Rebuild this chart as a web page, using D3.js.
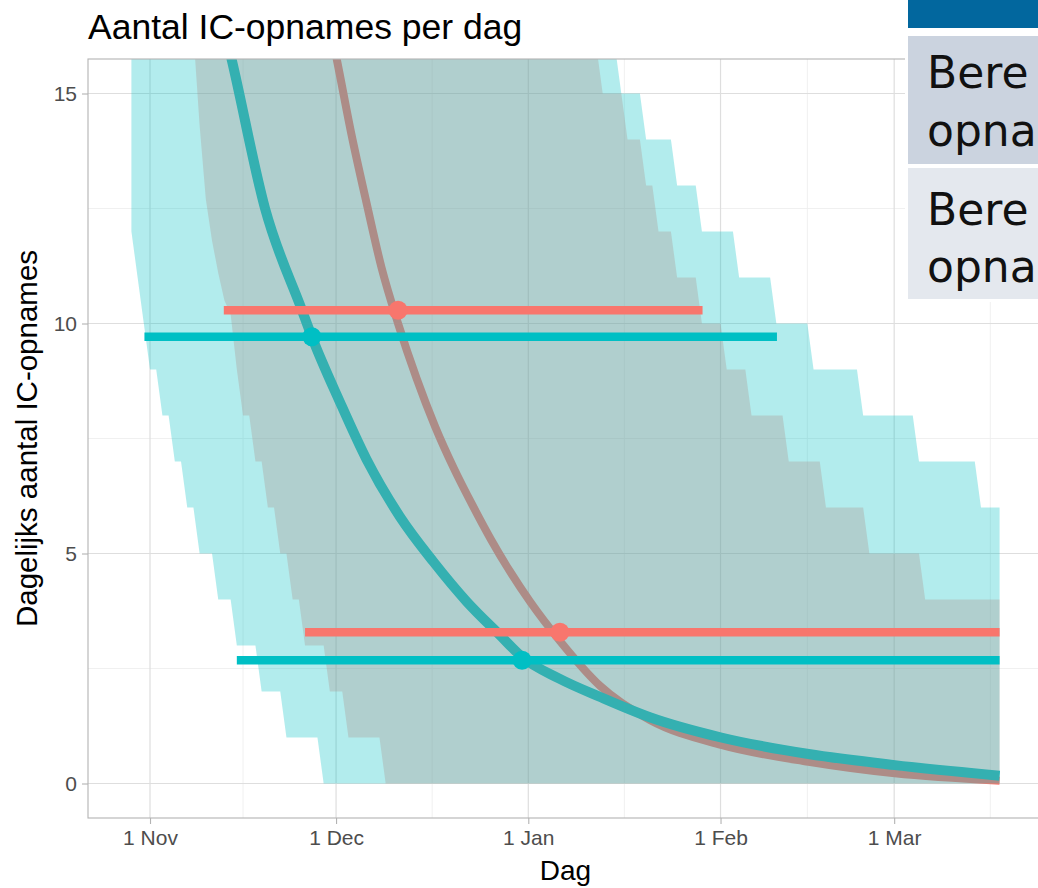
<!DOCTYPE html>
<html><head><meta charset="utf-8">
<script src="https://cdn.jsdelivr.net/npm/d3@7"></script>
<style>body{margin:0;background:#fff;overflow:hidden}</style>
</head><body>
<svg id="chart" width="1038" height="888"></svg>
<script>
// ---------------- data (x values are days since dayZero) ----------------
const dayZero = Date.UTC(2020, 10, 1); // 1 Nov 2020
const xTickDates = ["2020-11-01", "2020-12-01", "2021-01-01", "2021-02-01", "2021-03-01", "2021-04-01"];
const xTickLabels = ["1 Nov", "1 Dec", "1 Jan", "1 Feb", "1 Mar", ""];
const yTicks = [0, 5, 10, 15];
const yMinorTicks = [2.5, 7.5, 12.5];
const ribbonFirstDay = -3, ribbonLastDay = 137;

// step bounds: value holds from the listed day until the next listed day
const cyanLowDay  = [-3, -2, -1, 0, 2, 4, 6, 8, 11, 14, 18, 22, 28];
const cyanLowVal  = [12, 11, 10, 9, 8, 7, 6, 5, 4, 3, 2, 1, 0];
const cyanHighDay = [-3, 75, 76, 80, 85, 89, 95, 101, 107, 115, 124, 134];
const cyanHighVal = [17, 16, 15, 14, 13, 12, 11, 10, 9, 8, 7, 6];
const redLowDay   = [-3, 7, 8, 9, 10, 11, 12, 13, 14, 15, 17, 19, 21, 23, 25, 29, 32, 38];
const redLowVal   = [18, 16.3, 14.3, 12.7, 11.8, 11.1, 10.5, 10.2, 9, 8, 7, 6, 5, 4, 3, 2, 1, 0];
const redHighDay  = [-3, 72, 73, 77, 80, 82, 85, 89, 93, 97, 103, 109, 116, 125];
const redHighVal  = [18, 16, 15, 14, 13, 12, 11, 10, 9, 8, 7, 6, 5, 4];

// median curves
const cyanMedDay = [12.0, 13.2, 18.55, 24.5, 26.1, 30.6, 34.9, 40.3, 45.7, 51.1, 56.4, 60.0, 66.0, 72.6, 80.6, 92.1, 106.2, 120.1, 137];
const cyanMedVal = [16.4, 15.72, 12.5, 10.29, 9.71, 8.3, 7.05, 5.8, 4.82, 3.95, 3.23, 2.75, 2.28, 1.88, 1.44, 1.0, 0.64, 0.40, 0.17];
const redMedDay  = [29.5, 30.15, 32.5, 34.95, 37.36, 40.0, 43.0, 46.0, 49.0, 52.0, 55.0, 58.0, 61.3, 66.1, 72.6, 80.6, 92.1, 106.2, 120.1, 137];
const redMedVal  = [16.15, 15.72, 14.1, 12.6, 11.2, 10.0, 8.8, 7.75, 6.85, 6.05, 5.3, 4.62, 3.95, 3.1, 2.12, 1.38, 0.84, 0.47, 0.22, 0.06];

// horizontal threshold segments and their points
const segSeries  = ["red", "cyan", "red", "cyan"];
const segValue   = [10.29, 9.71, 3.29, 2.68];
const segFromDay = [11.9, -0.9, 25.0, 14.0];
const segToDay   = [89.1, 101.1, 137, 137];
const segPointDay= [40.0, 26.1, 66.1, 60.0];

const colors = {red: "#F8766D", cyan: "#00BFC4"};

// ---------------- helpers ----------------
const toDate = d => new Date(dayZero + d * 864e5);
function stepSeries(days, vals) {
  const out = [];
  for (let d = ribbonFirstDay; d <= ribbonLastDay; d++) {
    let v = vals[0];
    for (let i = 0; i < days.length; i++) if (days[i] <= d) v = vals[i];
    out.push(v);
  }
  return out;
}

// ---------------- layout ----------------
const svg = d3.select("#chart");
const P = {left: 88, right: 1043, top: 59, bottom: 818};

const x = d3.scaleUtc().domain([toDate(-10), toDate(144)]).range([P.left, P.right]);
const y = d3.scaleLinear().domain([-0.75, 15.75]).range([P.bottom, P.top]);

svg.append("defs").append("clipPath").attr("id", "clip")
  .append("rect").attr("x", P.left).attr("y", P.top).attr("width", P.right - P.left).attr("height", P.bottom - P.top);

const grid = svg.append("g");
const majorDates = xTickDates.map(s => new Date(s + "T00:00:00Z"));
const minorDates = [];
for (let i = 0; i < majorDates.length - 1; i++) minorDates.push(new Date((+majorDates[i] + +majorDates[i + 1]) / 2));
grid.selectAll(".vmin").data(minorDates.filter(d => x(d) > P.left && x(d) < P.right)).join("line")
  .attr("x1", d => x(d)).attr("x2", d => x(d)).attr("y1", P.top).attr("y2", P.bottom)
  .attr("stroke", "#ececec").attr("stroke-width", 0.8);
grid.selectAll(".hmin").data(yMinorTicks).join("line")
  .attr("x1", P.left).attr("x2", P.right).attr("y1", d => y(d)).attr("y2", d => y(d))
  .attr("stroke", "#ececec").attr("stroke-width", 0.8);
grid.selectAll(".vmaj").data(majorDates.filter(d => x(d) < P.right)).join("line")
  .attr("x1", d => x(d)).attr("x2", d => x(d)).attr("y1", P.top).attr("y2", P.bottom)
  .attr("stroke", "#dedede").attr("stroke-width", 1.2);
grid.selectAll(".hmaj").data(yTicks).join("line")
  .attr("x1", P.left).attr("x2", P.right).attr("y1", d => y(d)).attr("y2", d => y(d))
  .attr("stroke", "#dedede").attr("stroke-width", 1.2);

const plot = svg.append("g").attr("clip-path", "url(#clip)");

// median lines (drawn below the ribbons)
const line = d3.line().x(d => x(toDate(d[0]))).y(d => y(d[1])).curve(d3.curveMonotoneX);
plot.append("path").datum(redMedDay.map((d, i) => [d, redMedVal[i]]))
  .attr("d", line).attr("fill", "none").attr("stroke", colors.red).attr("stroke-width", 8);
plot.append("path").datum(cyanMedDay.map((d, i) => [d, cyanMedVal[i]]))
  .attr("d", line).attr("fill", "none").attr("stroke", colors.cyan).attr("stroke-width", 10);

// ribbons
const days = d3.range(ribbonFirstDay, ribbonLastDay + 1);
const area = d3.area().x(d => x(toDate(d.day))).y0(d => y(d.lo)).y1(d => y(d.hi));
function ribbon(lowD, lowV, highD, highV, col) {
  const lo = stepSeries(lowD, lowV), hi = stepSeries(highD, highV);
  plot.append("path").datum(days.map((d, i) => ({day: d, lo: lo[i], hi: hi[i]})))
    .attr("d", area).attr("fill", col).attr("fill-opacity", 0.3);
}
ribbon(redLowDay, redLowVal, redHighDay, redHighVal, colors.red);
ribbon(cyanLowDay, cyanLowVal, cyanHighDay, cyanHighVal, colors.cyan);

// segments + points
segSeries.forEach((s, i) => {
  plot.append("line")
    .attr("x1", x(toDate(segFromDay[i]))).attr("x2", x(toDate(segToDay[i])))
    .attr("y1", y(segValue[i])).attr("y2", y(segValue[i]))
    .attr("stroke", colors[s]).attr("stroke-width", 8.5);
});
segSeries.forEach((s, i) => {
  plot.append("circle").attr("cx", x(toDate(segPointDay[i]))).attr("cy", y(segValue[i]))
    .attr("r", 9.5).attr("fill", colors[s]);
});

// panel border
svg.append("rect").attr("x", P.left).attr("y", P.top).attr("width", P.right - P.left).attr("height", P.bottom - P.top)
  .attr("fill", "none").attr("stroke", "#b3b3b3").attr("stroke-width", 1.1);

// axes
const font = "'Liberation Sans', Arial, Helvetica, sans-serif";
const xAxis = svg.append("g").attr("transform", `translate(0,${P.bottom})`)
  .call(d3.axisBottom(x).tickValues(majorDates.slice(0, 5)).tickFormat((d, i) => xTickLabels[i]).tickSize(6).tickPadding(6));
const yAxis = svg.append("g").attr("transform", `translate(${P.left},0)`)
  .call(d3.axisLeft(y).tickValues(yTicks).tickSize(6).tickPadding(5));
[xAxis, yAxis].forEach(a => {
  a.select(".domain").remove();
  a.selectAll(".tick line").attr("stroke", "#b3b3b3").attr("stroke-width", 1.1);
  a.selectAll(".tick text").attr("fill", "#4d4d4d").style("font-family", font).style("font-size", "21px");
});

svg.append("text").attr("x", 88).attr("y", 39).text("Aantal IC-opnames per dag")
  .style("font-family", font).style("font-size", "35.5px").attr("fill", "#000");
svg.append("text").attr("x", (P.left + P.right) / 2).attr("y", 880).attr("text-anchor", "middle").text("Dag")
  .style("font-family", font).style("font-size", "28px").attr("fill", "#000");
svg.append("text").attr("transform", `translate(37,${(P.top + P.bottom) / 2}) rotate(-90)`).attr("text-anchor", "middle")
  .text("Dagelijks aantal IC-opnames").style("font-family", font).style("font-size", "29.5px").attr("fill", "#000");

// overlay (slide boxes in the top-right corner)
const ov = svg.append("g");
ov.append("rect").attr("x", 905).attr("y", 0).attr("width", 133).attr("height", 302).attr("fill", "#fff");
ov.append("rect").attr("x", 908).attr("y", 0).attr("width", 130).attr("height", 28).attr("fill", "#02679e");
ov.append("rect").attr("x", 908).attr("y", 36).attr("width", 130).attr("height", 128).attr("fill", "#cbd3df");
ov.append("rect").attr("x", 908).attr("y", 168).attr("width", 130).attr("height", 131).attr("fill", "#e4e8ee");
const boxFont = "'DejaVu Sans', Verdana, sans-serif";
[["Bere", 88], ["opna", 146], ["Bere", 225], ["opna", 282]].forEach(([t, yy]) => {
  ov.append("text").attr("x", 927).attr("y", yy).text(t)
    .style("font-family", boxFont).style("font-size", "44px").attr("fill", "#111");
});
</script>
</body></html>
